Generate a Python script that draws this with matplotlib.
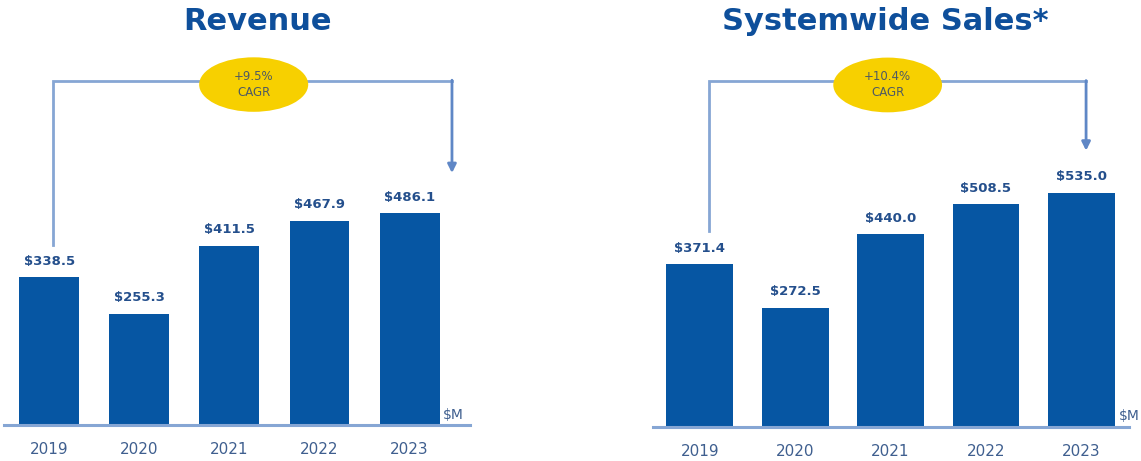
import matplotlib
matplotlib.use('Agg')
import matplotlib.pyplot as plt
from matplotlib.patches import Ellipse

years = ['2019', '2020', '2021', '2022', '2023']
revenue = [338.5, 255.3, 411.5, 467.9, 486.1]
system_sales = [371.4, 272.5, 440.0, 508.5, 535.0]
titles = ['Revenue', 'Systemwide Sales*']
cagr = ['+9.5%\nCAGR', '+10.4%\nCAGR']

BAR = '#0656a3'
LINE = '#86a6d4'
TITLE = '#0e4f9b'
LABEL = '#244f8c'
YEAR = '#3f5f8f'
GOLD = '#f7d000'

W, H = 1141, 461
fig = plt.figure(figsize=(W / 100, H / 100), dpi=100)

def px_axes(x0, x1, top, bottom):
    return fig.add_axes([x0 / W, 1 - bottom / H, (x1 - x0) / W, (bottom - top) / H])

# pixel boxes of the two panels
ax1 = px_axes(4, 470, 0, 425)
ax2 = px_axes(653, 1129, 0, 427)

panels = [
    # ax, values, xlim, bar width, bracket x (left, right), bracket bottoms, ellipse, title x
    (ax1, revenue, (-0.5, 4.67), 0.665, (0.04, 4.47), (413, 578), (2.27, 1.21), 257),
    (ax2, system_sales, (-0.49, 4.5), 0.70, (0.10, 4.05), (447, 631), (1.97, 1.14), 885),
]

for i, (ax, vals, xl, bw, bx, bb, ell, tx) in enumerate(panels):
    x = list(range(len(years)))
    ax.bar(x, vals, width=bw, color=BAR, zorder=2)
    ax.set_xlim(*xl)
    ax.set_ylim(0, 975)
    for xi, v in zip(x, vals):
        ax.text(xi, v + 22, f'${v:.1f}', ha='center', va='bottom', fontsize=9.5,
                fontweight='bold', color=LABEL)
    for s in ['top', 'left', 'right']:
        ax.spines[s].set_visible(False)
    ax.spines['bottom'].set_color(LINE)
    ax.spines['bottom'].set_linewidth(2.2)
    ax.set_yticks([])
    ax.set_xticks(x)
    ax.set_xticklabels(years, fontsize=11, color=YEAR)
    ax.tick_params(axis='x', length=0, pad=12)
    ax.text(x[-1] + bw / 2 + 0.04, 8, '$M', ha='left', va='bottom', fontsize=10,
            color=YEAR, clip_on=False)

    # CAGR bracket
    top = 790
    ax.plot([bx[0], bx[0], bx[1]], [bb[0], top, top], color=LINE, lw=2,
            clip_on=False, zorder=1, solid_joinstyle='miter')
    ax.annotate('', xy=(bx[1], bb[1]), xytext=(bx[1], top + 1),
                arrowprops=dict(arrowstyle='-|>,head_width=0.25,head_length=0.5',
                                color='#5f87c6', lw=2, shrinkA=0, shrinkB=0),
                annotation_clip=False)
    ax.add_patch(Ellipse((ell[0], 781), ell[1], 125, facecolor=GOLD,
                         edgecolor='none', clip_on=False, zorder=3))
    ax.text(ell[0], 781, cagr[i], ha='center', va='center', fontsize=8.5,
            color='#4e5a63', linespacing=1.3, zorder=4)

    fig.text(tx / W, 1 - 22 / H, titles[i], ha='center', va='center', fontsize=22,
             fontweight='bold', color=TITLE)

fig.savefig('out.png', dpi=100)
